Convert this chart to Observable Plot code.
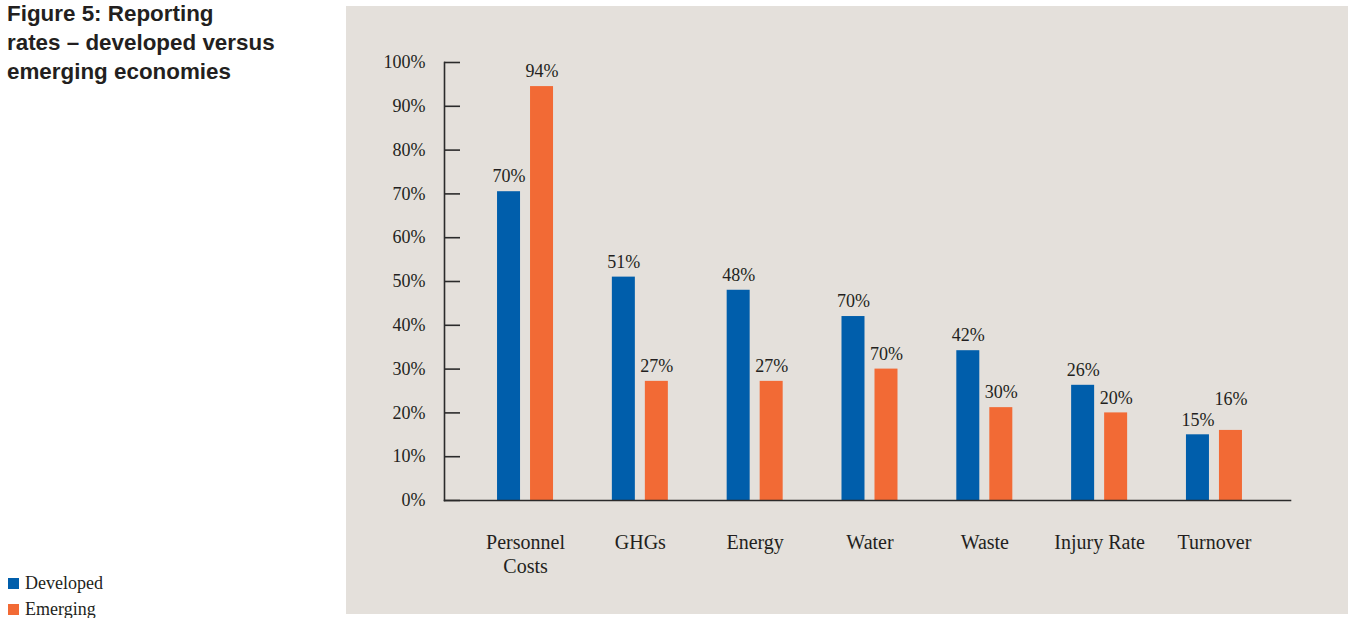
<!DOCTYPE html>
<html>
<head>
<meta charset="utf-8">
<script src="https://cdn.jsdelivr.net/npm/d3@7"></script>
<script src="https://cdn.jsdelivr.net/npm/@observablehq/plot@0.6"></script>
<style>
  html, body { margin: 0; padding: 0; background: #fff; width: 1348px; height: 618px; overflow: hidden; position: relative; }
  #title { position: absolute; left: 7px; top: -1px; font-family: "Liberation Sans", Arial, sans-serif; font-weight: bold; font-size: 22.4px; line-height: 29px; color: #231f20; }
  #chart { position: absolute; left: 346px; top: 6px; }
  #legend { position: absolute; left: 8px; top: 570px; font-family: "Liberation Serif", serif; font-size: 18px; color: #231f20; }
  #legend div { height: 26px; line-height: 20px; display: flex; align-items: center; }
  #legend span.sw { display: inline-block; width: 11px; height: 11px; margin-right: 6px; }
</style>
</head>
<body>
<div id="title">Figure 5: Reporting<br>rates – developed versus<br>emerging economies</div>
<div id="chart"></div>
<div id="legend"></div>
<script>
const categories = ["Personnel Costs", "GHGs", "Energy", "Water", "Waste", "Injury Rate", "Turnover"];
const categoryLabels = ["Personnel\nCosts", "GHGs", "Energy", "Water", "Waste", "Injury Rate", "Turnover"];
const developed = [70.5, 51, 48, 42, 34.2, 26.3, 15];
const emerging = [94.5, 27.2, 27.2, 30, 21.2, 20, 16];
const developedLabels = ["70%", "51%", "48%", "70%", "42%", "26%", "15%"];
const emergingLabels = ["94%", "27%", "27%", "70%", "30%", "20%", "16%"];
const seriesNames = ["Developed", "Emerging"];
const seriesColors = ["#005eab", "#f26a35"];
const yTicks = [0, 10, 20, 30, 40, 50, 60, 70, 80, 90, 100];

const devData = categories.map((c, i) => ({cat: c, value: developed[i], label: developedLabels[i]}));
const emData = categories.map((c, i) => ({cat: c, value: emerging[i], label: emergingLabels[i]}));
const labelOf = new Map(categories.map((c, i) => [c, categoryLabels[i]]));

const W = 1002, H = 608;
const step = (W - 98 - 58) / (7 + 2 * 0.184);
const inset = (step - 23) / 2;
const off = 16.5;
const textColor = "#231f20";
const font = "Liberation Serif, serif";
const raised = new Set(["Turnover"]);

const chart = Plot.plot({
  width: W,
  height: H,
  marginLeft: 98,
  marginRight: 58,
  marginTop: 56,
  marginBottom: 114,
  style: {background: "#e4e0db", fontFamily: font, fontSize: "18px", color: textColor},
  x: {domain: categories, padding: 0, paddingOuter: 0.184, align: 0.559, round: false, label: null},
  y: {domain: [0, 100], label: null},
  marks: [
    Plot.barY(devData, {x: "cat", y: "value", fill: seriesColors[0], insetLeft: inset, insetRight: inset, dx: -off}),
    Plot.barY(emData, {x: "cat", y: "value", fill: seriesColors[1], insetLeft: inset, insetRight: inset, dx: off}),
    Plot.text(devData, {x: "cat", y: "value", text: "label", dx: -off, dy: -15, fill: textColor, fontSize: 18}),
    Plot.text(emData, {filter: d => !raised.has(d.cat), x: "cat", y: "value", text: "label", dx: off, dy: -15, fill: textColor, fontSize: 18}),
    Plot.text(emData, {filter: d => raised.has(d.cat), x: "cat", y: "value", text: "label", dx: off, dy: -31, fill: textColor, fontSize: 18}),
    Plot.axisY({ticks: yTicks, tickSize: 0, tickPadding: 19, tickFormat: d => d + "%", fontSize: 18, fill: textColor, label: null}),
    Plot.axisY({ticks: yTicks, tickSize: -16, text: null, stroke: "#2b2b2b", strokeWidth: 1.6, label: null}),
    Plot.axisX({tickSize: 0, tickPadding: 31, lineAnchor: "top", lineHeight: 1.2, fontSize: 20, fill: textColor, tickFormat: d => labelOf.get(d), label: null}),
    Plot.frame({anchor: "left", stroke: "#2b2b2b", strokeWidth: 1.6}),
    Plot.frame({anchor: "bottom", stroke: "#2b2b2b", strokeWidth: 1.6})
  ]
});
document.getElementById("chart").appendChild(chart);

const legend = document.getElementById("legend");
seriesNames.forEach((n, i) => {
  const row = document.createElement("div");
  const sw = document.createElement("span");
  sw.className = "sw";
  sw.style.background = seriesColors[i];
  row.appendChild(sw);
  row.appendChild(document.createTextNode(n));
  legend.appendChild(row);
});
</script>
</body>
</html>
